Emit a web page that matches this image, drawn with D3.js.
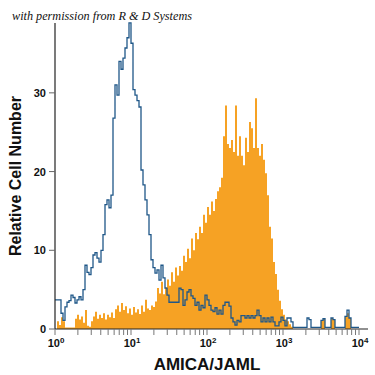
<!DOCTYPE html>
<html>
<head>
<meta charset="utf-8">
<script src="https://cdn.jsdelivr.net/npm/d3@7"></script>
<style>
  body { margin: 0; background: #fff; }
  svg { display: block; }
</style>
</head>
<body>
<div id="chart"></div>
<script>
// histogram channels: 38 per decade, 10^0 .. 10^4
const BINS_PER_DECADE = 38;

const isotypeCounts = [
  3.7, 3.7, 3.7, 2.0, 1.1, 2.8, 3.4, 3.6, 4.3, 4.0,
  3.3, 3.7, 4.1, 3.7, 5.0, 8.1, 7.2, 6.9, 7.8, 9.4,
  9.7, 9.0, 8.5, 10.0, 12.0, 15.8, 16.4, 15.4, 17.0, 26.8,
  31.0, 29.7, 34.0, 33.0, 34.4, 35.7, 37.0, 38.9, 36.3, 30.4,
  29.7, 29.0, 28.2, 20.2, 18.3, 16.4, 14.5, 12.0, 8.8, 7.8,
  7.1, 7.5, 6.2, 8.1, 6.5, 5.2, 4.3, 3.4, 3.4, 3.4,
  3.4, 3.4, 5.2, 5.0, 3.0, 3.7, 4.7, 5.0, 4.2, 3.9,
  3.0, 3.4, 2.4, 3.0, 2.7, 4.3, 3.7, 3.0, 2.4, 2.2,
  2.7, 1.9, 2.4, 1.9, 3.0, 3.4, 3.4, 2.9, 1.4, 0.9,
  0.5, 1.1, 0.9, 1.7, 1.7, 1.4, 1.7, 1.4, 1.7, 1.4,
  1.7, 2.4, 1.7, 0.9, 1.4, 0.9, 1.4, 0.9, 1.5, 0.9,
  0.4, 0.4, 0.9, 1.5, 1.1, 0.4, 1.4, 1.4, 0.9, 0.2,
  0.2, 0.2, 0.2, 0.2, 0.2, 0.2, 1.4, 1.2, 0.2, 0.2,
  0.2, 0.2, 0.2, 1.1, 1.3, 0.2, 0.2, 0.2, 1.4, 1.2,
  0.2, 0.2, 0.2, 0.2, 0.2, 1.6, 2.4, 1.4, 0.2, 0.2,
  0.2, 0.2
];

const amicaCounts = [
  0, 1.0, 0.5, 1.5, 1.0, 0.2, 0.2, 0.2, 0.2, 0.2,
  1.3, 1.8, 1.2, 1.6, 0.8, 2.4, 0.4, 0.3, 1.0, 1.6,
  2.2, 1.3, 1.8, 1.4, 2.0, 1.2, 1.8, 1.5, 2.1, 1.4,
  2.5, 3.0, 2.2, 3.3, 2.4, 2.9, 2.0, 2.6, 1.8, 2.8,
  2.1, 2.5, 1.9, 3.0, 2.2, 3.7, 2.6, 2.4, 3.0, 2.8,
  3.5, 5.2, 4.5, 6.0, 4.4, 5.3, 6.3, 5.5, 7.2, 6.0,
  7.8, 6.8, 8.0, 7.4, 9.3, 8.5, 10.2, 9.0, 11.5, 10.0,
  12.2, 11.4, 13.0, 12.2, 14.5, 13.5, 15.5, 14.5, 16.2, 15.0,
  16.5, 17.5, 18.0, 19.2, 24.5, 28.4, 23.5, 23.0, 24.0, 22.5,
  28.4, 22.0, 24.5, 22.0, 20.8, 24.3, 22.5, 26.3, 25.5, 23.0,
  29.3, 23.0, 22.0, 23.5, 21.5, 19.8, 17.0, 13.0, 11.5, 8.5,
  7.0, 5.0, 3.6, 2.5, 1.8, 1.2, 1.0, 0.6, 0.3, 0,
  0, 0, 0, 0, 0, 0, 0, 0, 0, 0,
  0, 0, 0, 1.1, 1.3, 0, 0, 0, 1.4, 1.2,
  0, 0, 0, 0, 0, 1.6, 2.0, 1.4, 0, 0,
  0, 0
];

const yTicks = [0, 10, 20, 30];
const xDecades = [0, 1, 2, 3, 4];

const WIDTH = 375;
const HEIGHT = 375;

const svg = d3.select("#chart")
  .append("svg")
  .attr("width", WIDTH)
  .attr("height", HEIGHT);

const x = d3.scaleLog().domain([1, 1e4]).range([55, 359]);
const y = d3.scaleLinear().domain([0, 39]).range([329, 22]);

const toSteps = counts => {
  const pts = counts.map((v, i) => ({ x: Math.pow(10, i / BINS_PER_DECADE), v }));
  pts.push({ x: Math.pow(10, counts.length / BINS_PER_DECADE), v: counts[counts.length - 1] });
  return pts;
};

// filled AMICA/JAML histogram
const area = d3.area()
  .curve(d3.curveStepAfter)
  .x(d => x(d.x))
  .y0(y(0))
  .y1(d => y(d.v));

svg.append("path")
  .datum(toSteps(amicaCounts))
  .attr("d", area)
  .attr("fill", "#f6a224");

// isotype control outline
const line = d3.line()
  .curve(d3.curveStepAfter)
  .x(d => x(d.x))
  .y(d => y(d.v));

svg.append("path")
  .datum(toSteps(isotypeCounts))
  .attr("d", line)
  .attr("fill", "none")
  .attr("stroke", "#1f5788")
  .attr("stroke-width", 1.3);

// axes
const axisColor = "#222";
svg.append("line")
  .attr("x1", 55).attr("x2", 55)
  .attr("y1", 23).attr("y2", y(0))
  .attr("stroke", axisColor).attr("stroke-width", 1.2);
svg.append("line")
  .attr("x1", 55).attr("x2", 368)
  .attr("y1", y(0)).attr("y2", y(0))
  .attr("stroke", axisColor).attr("stroke-width", 1.2);

// y ticks
const yg = svg.append("g");
yg.selectAll("line")
  .data(yTicks)
  .join("line")
  .attr("x1", 49).attr("x2", 55)
  .attr("y1", d => y(d)).attr("y2", d => y(d))
  .attr("stroke", "#666");
yg.selectAll("text")
  .data(yTicks)
  .join("text")
  .attr("x", 46)
  .attr("y", d => y(d) + 4)
  .attr("text-anchor", "end")
  .attr("font-family", "Liberation Sans, Arial, sans-serif")
  .attr("font-weight", "bold")
  .attr("font-size", 11)
  .attr("fill", "#111")
  .text(d => d);

// x ticks: majors + minors
const xTickVals = [];
xDecades.forEach(p => {
  for (let m = 1; m <= 9; m++) {
    const v = m * Math.pow(10, p);
    if (v <= 1e4) xTickVals.push(v);
  }
});
svg.append("g").selectAll("line")
  .data(xTickVals)
  .join("line")
  .attr("x1", d => x(d)).attr("x2", d => x(d))
  .attr("y1", y(0)).attr("y2", y(0) + 6)
  .attr("stroke", "#777");

const xl = svg.append("g").selectAll("text")
  .data(xDecades)
  .join("text")
  .attr("x", d => x(Math.pow(10, d)) + 1)
  .attr("y", 347)
  .attr("text-anchor", "middle")
  .attr("font-family", "Liberation Sans, Arial, sans-serif")
  .attr("font-weight", "bold")
  .attr("font-size", 11)
  .attr("fill", "#111");
xl.append("tspan").text("10");
xl.append("tspan")
  .attr("dy", -4)
  .attr("font-size", 8)
  .text(d => d);

// axis titles
svg.append("text")
  .attr("x", 207)
  .attr("y", 370)
  .attr("text-anchor", "middle")
  .attr("font-family", "Liberation Sans, Arial, sans-serif")
  .attr("font-weight", "bold")
  .attr("font-size", 17)
  .attr("fill", "#111")
  .text("AMICA/JAML");

svg.append("text")
  .attr("transform", "translate(21,176) rotate(-90)")
  .attr("text-anchor", "middle")
  .attr("font-family", "Liberation Sans, Arial, sans-serif")
  .attr("font-weight", "bold")
  .attr("font-size", 16)
  .attr("fill", "#111")
  .text("Relative Cell Number");

// credit line
svg.append("text")
  .attr("x", 12)
  .attr("y", 20)
  .attr("font-family", "Liberation Serif, serif")
  .attr("font-style", "italic")
  .attr("font-size", 13)
  .attr("textLength", 180)
  .attr("lengthAdjust", "spacingAndGlyphs")
  .attr("fill", "#111")
  .text("with permission from R & D Systems");
</script>
</body>
</html>
